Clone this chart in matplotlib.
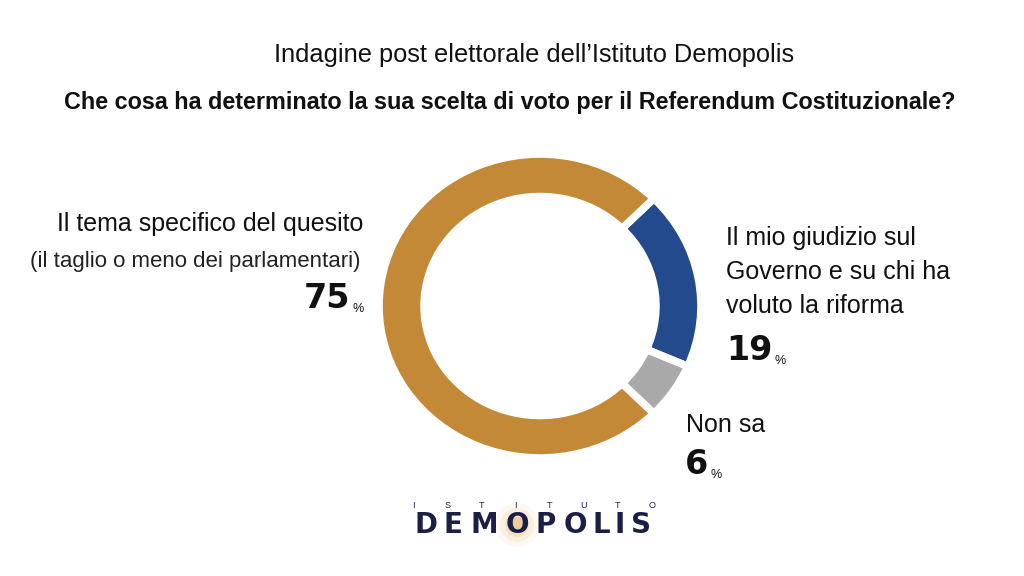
import matplotlib.pyplot as plt
import numpy as np

# =========================================================
# DATI
# =========================================================

labels = ["Il mio giudizio sul Governo e su chi ha voluto la riforma",
          "Non sa",
          "Il tema specifico del quesito"]
values = [19, 6, 75]
colors = ["#234A8C", "#A9A9A9", "#C48936"]

title_top = "Indagine post elettorale dell\u2019Istituto Demopolis"
title_main = "Che cosa ha determinato la sua scelta di voto per il Referendum Costituzionale?"

SANS = ["Liberation Sans", "DejaVu Sans"]
HEAVY = ["DejaVu Sans"]
INK = "#111111"

W, H = 1024, 576
fig = plt.figure(figsize=(W / 100, H / 100), dpi=100)
fig.patch.set_facecolor("white")


def px(x, y):
    return x / W, 1 - y / H


# =========================================================
# DONUT (leggermente ellittico come nell'originale)
# =========================================================

cx, cy = 540, 306
rx, ry = 161, 152
ax = fig.add_axes([(cx - rx) / W, 1 - (cy + ry) / H, 2 * rx / W, 2 * ry / H])
ax.pie(values, colors=colors, startangle=45, counterclock=False,
       radius=1.0, wedgeprops=dict(width=0.28, edgecolor="white", linewidth=5.5))
ax.set_aspect("auto")
ax.set_xlim(-1, 1)
ax.set_ylim(-1, 1)
ax.axis("off")

# =========================================================
# TITOLI
# =========================================================

fig.text(*px(534, 55), title_top, ha="center", va="center",
         fontsize=18.3, family=SANS, color=INK)
fig.text(*px(510, 103), title_main, ha="center", va="center",
         fontsize=16.85, family=SANS, weight="bold", color=INK)

# =========================================================
# ETICHETTE
# =========================================================


def pct(x, y, num, ha="left"):
    t = fig.text(*px(x, y), f"{num}", ha=ha, va="center", fontsize=24,
                 family=HEAVY, weight="bold", color=INK)
    ax.annotate("%", xy=(1, 0), xycoords=t, xytext=(1.5, 0.5),
                textcoords="offset points", ha="left", va="bottom",
                fontsize=9, family=SANS, color=INK, annotation_clip=False)
    return t


# sinistra
fig.text(*px(363, 224), "Il tema specifico del quesito", ha="right", va="center",
         fontsize=18, family=SANS, color=INK)
fig.text(*px(361, 261), "(il taglio o meno dei parlamentari)", ha="right", va="center",
         fontsize=16, family=SANS, color="#222222")
pct(350, 299, values[2], ha="right")

# destra
right_lines = ["Il mio giudizio sul", "Governo e su chi ha", "voluto la riforma"]
for i, line in enumerate(right_lines):
    fig.text(*px(726, 238 + i * 34), line, ha="left", va="center",
             fontsize=18, family=SANS, color=INK)
pct(726, 351, values[0])

fig.text(*px(686, 425), "Non sa", ha="left", va="center",
         fontsize=18, family=SANS, color=INK)
pct(685, 465, values[1])

# =========================================================
# LOGO
# =========================================================

navy = "#1B1E45"
for xx, ch in zip(np.linspace(413, 652, 8), "ISTITUTO"):
    fig.text(*px(xx, 505), ch, ha="center", va="center", fontsize=6.5,
             family=SANS, color=navy)

# alone arancio dietro la O
glow = fig.add_axes([0, 0, 1, 1], zorder=-1)
glow.set_xlim(0, W)
glow.set_ylim(H, 0)
glow.axis("off")
for r, a in [(22, 0.07), (17, 0.1), (12, 0.18), (8, 0.3)]:
    glow.add_patch(plt.Circle((517, 525), r, color="#E8A04A", alpha=a, lw=0))

for xx, ch in zip([426, 453, 484, 517, 546, 575, 601, 620, 641], "DEMOPOLIS"):
    fig.text(*px(xx, 525), ch, ha="center", va="center", fontsize=20,
             family=HEAVY, weight="bold", color=navy)

plt.savefig("out.png", dpi=100, facecolor="white")
